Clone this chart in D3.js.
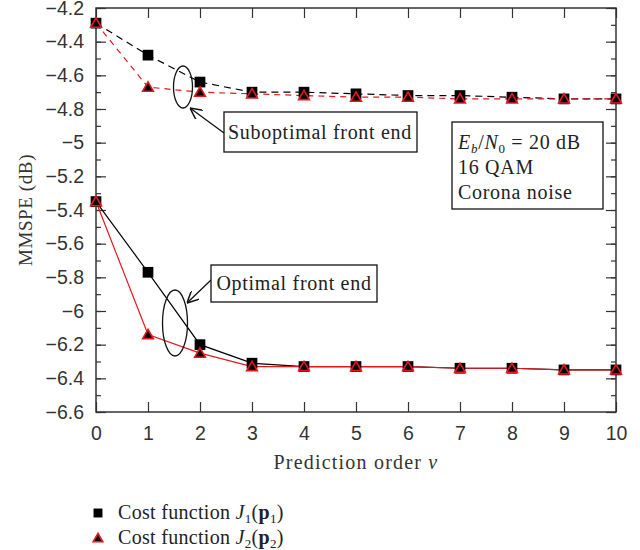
<!DOCTYPE html>
<html>
<head>
<meta charset="utf-8">
<script src="https://cdn.jsdelivr.net/npm/d3@7"></script>
<style>
  body { margin: 0; background: #fff; }
  svg { font-family: "Liberation Serif", "DejaVu Serif", serif; }
</style>
</head>
<body>
<svg id="chart" width="640" height="550"></svg>
<script>
// prediction order
var orders = [0, 1, 2, 3, 4, 5, 6, 7, 8, 9, 10];
// suboptimal front end (dashed)
var subJ1 = [-4.29, -4.48, -4.64, -4.70, -4.70, -4.71, -4.72, -4.72, -4.73, -4.74, -4.74];
var subJ2 = [-4.29, -4.67, -4.70, -4.71, -4.72, -4.73, -4.73, -4.74, -4.74, -4.74, -4.74];
// optimal front end (solid)
var optJ1 = [-5.35, -5.77, -6.20, -6.31, -6.33, -6.33, -6.33, -6.34, -6.34, -6.35, -6.35];
var optJ2 = [-5.35, -6.14, -6.25, -6.33, -6.33, -6.33, -6.33, -6.34, -6.34, -6.35, -6.35];
var yTicks = [-4.2, -4.4, -4.6, -4.8, -5, -5.2, -5.4, -5.6, -5.8, -6, -6.2, -6.4, -6.6];

var svg = d3.select("#chart");
var margin = {left: 96, right: 24, top: 8, bottom: 138};
var width = 640 - margin.left - margin.right;
var height = 550 - margin.top - margin.bottom;
var axisColor = "#333";
var red = "#e8171c";

var x = d3.scaleLinear().domain([0, 10]).range([0, width]);
var y = d3.scaleLinear().domain([-6.6, -4.2]).range([height, 0]);

var g = svg.append("g").attr("transform", "translate(" + margin.left + "," + margin.top + ")");

var fmt = function (d) { return String(d).replace("-", "\u2212"); };
var minorY = d3.range(-66, -41).map(function (d) { return d / 10; });

// axes, ticks pointing inward
function styleAxis(sel) {
  sel.select(".domain").remove();
  sel.selectAll("line").attr("stroke", axisColor).attr("stroke-width", 1.2);
  sel.selectAll("text").attr("fill", axisColor).style("font-size", "19.5px");
}
g.append("g").attr("transform", "translate(0," + height + ")")
  .call(d3.axisBottom(x).tickValues(orders).tickSize(-10).tickPadding(14).tickFormat(d3.format("d")))
  .call(styleAxis);
g.append("g")
  .call(d3.axisTop(x).tickValues(orders).tickSize(-10).tickFormat(""))
  .call(styleAxis);
g.append("g")
  .call(d3.axisLeft(y).tickValues(yTicks).tickSize(-10).tickPadding(12).tickFormat(fmt))
  .call(styleAxis);
g.append("g")
  .call(d3.axisLeft(y).tickValues(minorY).tickSize(-5).tickFormat(""))
  .call(styleAxis);
g.append("g").attr("transform", "translate(" + width + ",0)")
  .call(d3.axisRight(y).tickValues(yTicks).tickSize(-10).tickFormat(""))
  .call(styleAxis);
g.append("g").attr("transform", "translate(" + width + ",0)")
  .call(d3.axisRight(y).tickValues(minorY).tickSize(-5).tickFormat(""))
  .call(styleAxis);
g.append("rect").attr("width", width).attr("height", height)
  .attr("fill", "none").attr("stroke", axisColor).attr("stroke-width", 1.5);

// axis titles
svg.append("text").attr("x", margin.left + width / 2).attr("y", 469)
  .attr("text-anchor", "middle").attr("fill", axisColor).style("font-size", "20px").style("letter-spacing", "1.2px")
  .text("Prediction order ").append("tspan").style("font-style", "italic").text("\u03bd");
svg.append("text").attr("transform", "translate(32," + (margin.top + height / 2) + ") rotate(-90)")
  .attr("text-anchor", "middle").attr("fill", axisColor).style("font-size", "19px").style("letter-spacing", "0.6px")
  .text("MMSPE (dB)");

// series
var series = [
  {vals: subJ1, color: "#000", dash: "7,5", mark: "square"},
  {vals: subJ2, color: red, dash: "6,5", mark: "triangle"},
  {vals: optJ1, color: "#000", dash: null, mark: "square"},
  {vals: optJ2, color: red, dash: null, mark: "triangle"}
];
var line = d3.line().x(function (d, i) { return x(orders[i]); }).y(function (d) { return y(d); });
var sq = d3.symbol().type(d3.symbolSquare).size(115);
var tri = d3.symbol().type(d3.symbolTriangle).size(50);

series.forEach(function (s) {
  g.append("path").datum(s.vals).attr("d", line)
    .attr("fill", "none").attr("stroke", s.color).attr("stroke-width", 1.2)
    .attr("stroke-dasharray", s.dash);
});
series.forEach(function (s) {
  g.selectAll(null).data(s.vals).enter().append("path")
    .attr("transform", function (d, i) { return "translate(" + x(orders[i]) + "," + (y(d) + (s.mark === "triangle" ? 1 : 0)) + ")"; })
    .attr("d", s.mark === "square" ? sq : tri)
    .attr("fill", "#000")
    .attr("stroke", s.mark === "square" ? "none" : red)
    .attr("stroke-width", 1.6);
});

// annotations
var ann = svg.append("g").attr("fill", "none").attr("stroke", "#111").attr("stroke-width", 1.3);
svg.append("defs").append("marker").attr("id", "arr")
  .attr("viewBox", "0 0 10 10").attr("refX", 10).attr("refY", 5)
  .attr("markerWidth", 9).attr("markerHeight", 9).attr("orient", "auto")
  .append("path").attr("d", "M0,0 L10,5 L0,10").attr("fill", "none").attr("stroke", "#111").attr("stroke-width", 1.3);

ann.append("ellipse").attr("cx", 183).attr("cy", 87).attr("rx", 9.5).attr("ry", 21);
ann.append("line").attr("x1", 224).attr("y1", 133).attr("x2", 190).attr("y2", 108).attr("marker-end", "url(#arr)");
ann.append("rect").attr("x", 224).attr("y", 112).attr("width", 193).attr("height", 40).attr("fill", "#fff");

ann.append("ellipse").attr("cx", 175).attr("cy", 323).attr("rx", 12.5).attr("ry", 33);
ann.append("line").attr("x1", 211).attr("y1", 280).attr("x2", 187).attr("y2", 303).attr("marker-end", "url(#arr)");
ann.append("rect").attr("x", 211).attr("y", 265).attr("width", 166).attr("height", 37).attr("fill", "#fff");

ann.append("rect").attr("x", 452).attr("y", 122).attr("width", 151).attr("height", 87).attr("fill", "#fff");

var txt = svg.append("g").attr("fill", "#222").style("font-size", "20px").style("letter-spacing", "0.7px");
txt.append("text").attr("x", 320).attr("y", 139).attr("text-anchor", "middle").text("Suboptimal front end");
txt.append("text").attr("x", 294).attr("y", 290).attr("text-anchor", "middle").text("Optimal front end");

var t1 = txt.append("text").attr("x", 458).attr("y", 149);
t1.append("tspan").style("font-style", "italic").text("E");
t1.append("tspan").style("font-style", "italic").style("font-size", "13px").attr("dy", 4).text("b");
t1.append("tspan").attr("dy", -4).text("/");
t1.append("tspan").style("font-style", "italic").text("N");
t1.append("tspan").style("font-size", "13px").attr("dy", 4).text("0");
t1.append("tspan").attr("dy", -4).text(" = 20 dB");
txt.append("text").attr("x", 458).attr("y", 174).text("16 QAM");
txt.append("text").attr("x", 458).attr("y", 199).text("Corona noise");

// legend
var legend = [
  {mark: "square", sub: "1"},
  {mark: "triangle", sub: "2"}
];
legend.forEach(function (l, i) {
  var ly = 513 + i * 25;
  svg.append("path").attr("transform", "translate(98," + (ly + (l.mark === "triangle" ? 1 : 0)) + ")")
    .attr("d", l.mark === "square" ? d3.symbol().type(d3.symbolSquare).size(80) : d3.symbol().type(d3.symbolTriangle).size(40))
    .attr("fill", "#000").attr("stroke", l.mark === "square" ? "none" : red).attr("stroke-width", 1.6);
  var t = svg.append("text").attr("x", 118).attr("y", ly + 6).attr("fill", "#222")
    .style("font-size", "20px").style("letter-spacing", "0.3px");
  t.append("tspan").text("Cost function ");
  t.append("tspan").style("font-style", "italic").text("J");
  t.append("tspan").style("font-size", "13px").attr("dy", 4).text(l.sub);
  t.append("tspan").attr("dy", -4).text("(");
  t.append("tspan").style("font-weight", "bold").text("p");
  t.append("tspan").style("font-size", "13px").attr("dy", 4).text(l.sub);
  t.append("tspan").attr("dy", -4).text(")");
});
</script>
</body>
</html>
